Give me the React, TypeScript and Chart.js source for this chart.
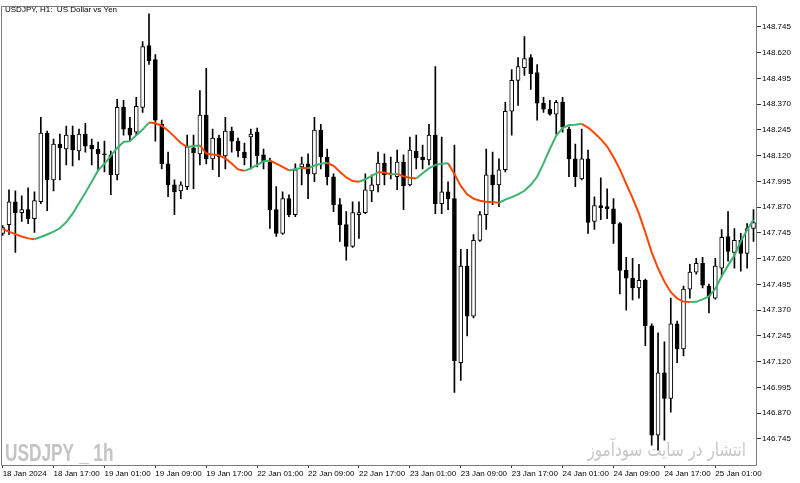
import React, { useEffect, useRef } from 'react';
import { Chart, registerables } from 'chart.js';

Chart.register(...registerables);

// USDJPY H1 candles, 18 Jan 2024 09:00 .. 25 Jan 2024 07:00
const opens = [
  147.742, 147.785, 147.896, 147.843, 147.858, 147.814, 147.896, 148.229, 148.002, 148.176,
  148.152, 148.219, 148.142, 148.224, 148.171, 148.152, 148.128, 148.123, 148.026, 148.354,
  148.253, 148.234, 148.354, 148.654, 148.586, 148.272, 148.080, 147.978, 147.949, 147.969,
  148.157, 148.128, 148.316, 148.104, 148.205, 148.118, 148.239, 148.190, 148.137, 148.210,
  148.234, 148.123, 148.089, 147.858, 147.742, 147.911, 147.833, 148.065, 148.080, 148.031,
  148.244, 148.113, 148.017, 147.882, 147.785, 147.679, 147.833, 147.843, 147.949, 147.978,
  148.084, 148.026, 148.017, 148.089, 147.978, 148.142, 148.113, 148.099, 148.219, 147.887,
  147.944, 147.911, 147.115, 147.583, 147.341, 147.708, 147.833, 148.026, 147.978, 148.051,
  148.335, 148.485, 148.547, 148.596, 148.523, 148.374, 148.345, 148.321, 148.379, 148.248,
  148.104, 148.007, 148.104, 147.800, 147.877, 147.872, 147.862, 147.790, 147.563, 147.525,
  147.477, 147.515, 147.293, 146.763, 147.066, 146.941, 147.303, 147.182, 147.472, 147.554,
  147.597, 147.486, 147.428, 147.573, 147.727, 147.650, 147.708, 147.645, 147.766,
];
const highs = [
  147.780, 147.954, 147.949, 147.925, 147.964, 147.944, 148.306, 148.239, 148.200, 148.224,
  148.263, 148.263, 148.248, 148.277, 148.200, 148.186, 148.190, 148.142, 148.393, 148.388,
  148.306, 148.403, 148.673, 148.808, 148.610, 148.292, 148.137, 148.002, 147.993, 148.219,
  148.219, 148.436, 148.543, 148.248, 148.219, 148.306, 148.258, 148.205, 148.181, 148.248,
  148.253, 148.152, 148.108, 147.969, 147.944, 147.930, 148.080, 148.113, 148.128, 148.306,
  148.272, 148.152, 148.031, 147.911, 147.848, 147.896, 147.896, 148.031, 148.026, 148.137,
  148.128, 148.113, 148.147, 148.123, 148.210, 148.219, 148.171, 148.272, 148.552, 148.210,
  147.993, 148.171, 147.665, 147.665, 147.737, 147.848, 148.152, 148.137, 148.104, 148.379,
  148.538, 148.596, 148.697, 148.610, 148.562, 148.403, 148.388, 148.388, 148.403, 148.258,
  148.176, 148.248, 148.147, 147.920, 148.012, 147.959, 147.911, 147.795, 147.626, 147.621,
  147.592, 147.520, 147.303, 147.259, 147.216, 147.428, 147.317, 147.486, 147.592, 147.621,
  147.626, 147.496, 147.621, 147.761, 147.848, 147.766, 147.742, 147.790, 147.858,
];
const lows = [
  147.732, 147.737, 147.650, 147.800, 147.790, 147.747, 147.887, 147.853, 147.949, 148.002,
  148.075, 148.070, 148.099, 148.137, 148.075, 148.051, 148.041, 147.930, 148.002, 148.219,
  148.190, 148.219, 148.330, 148.562, 148.190, 148.055, 147.920, 147.833, 147.911, 147.954,
  147.959, 148.075, 148.080, 148.051, 148.017, 148.055, 148.137, 148.113, 148.075, 148.055,
  148.065, 148.055, 147.766, 147.727, 147.737, 147.824, 147.824, 147.978, 147.911, 147.993,
  148.055, 147.978, 147.848, 147.703, 147.612, 147.674, 147.718, 147.838, 147.896, 147.944,
  147.978, 148.007, 147.954, 147.858, 147.973, 148.055, 148.055, 148.075, 147.838, 147.838,
  147.858, 146.970, 147.028, 147.245, 147.332, 147.703, 147.761, 147.882, 147.872, 148.041,
  148.219, 148.364, 148.509, 148.441, 148.292, 148.330, 148.316, 148.224, 148.234, 148.017,
  147.969, 148.002, 147.742, 147.761, 147.809, 147.814, 147.694, 147.448, 147.370, 147.419,
  147.428, 147.197, 146.714, 146.690, 146.738, 146.874, 147.115, 147.148, 147.428, 147.544,
  147.477, 147.356, 147.423, 147.534, 147.607, 147.573, 147.559, 147.573, 147.703,
];
const closes = [
  147.771, 147.896, 147.843, 147.858, 147.814, 147.901, 148.229, 148.002, 148.176, 148.157,
  148.219, 148.147, 148.224, 148.166, 148.152, 148.128, 148.123, 148.026, 148.354, 148.248,
  148.219, 148.359, 148.649, 148.581, 148.292, 148.080, 147.978, 147.944, 147.978, 148.162,
  148.133, 148.316, 148.104, 148.205, 148.113, 148.239, 148.190, 148.142, 148.108, 148.224,
  148.118, 148.089, 147.858, 147.742, 147.911, 147.833, 148.051, 148.080, 148.031, 148.244,
  148.113, 148.017, 147.882, 147.785, 147.679, 147.843, 147.843, 147.954, 147.978, 148.084,
  148.026, 148.031, 148.089, 147.973, 148.147, 148.108, 148.099, 148.219, 147.887, 147.944,
  147.911, 147.124, 147.583, 147.341, 147.708, 147.833, 148.026, 147.978, 148.051, 148.335,
  148.485, 148.552, 148.591, 148.518, 148.374, 148.345, 148.321, 148.379, 148.258, 148.104,
  148.017, 148.104, 147.795, 147.877, 147.867, 147.862, 147.790, 147.563, 147.525, 147.477,
  147.515, 147.293, 146.763, 147.066, 146.941, 147.303, 147.182, 147.472, 147.554, 147.597,
  147.491, 147.438, 147.583, 147.723, 147.655, 147.708, 147.645, 147.766, 147.795,
];
// moving-average line
const maValues = [
  147.763, 147.751, 147.739, 147.727, 147.718, 147.714, 147.725, 147.737, 147.751, 147.767,
  147.797, 147.838, 147.889, 147.940, 147.993, 148.048, 148.080, 148.118, 148.157, 148.186,
  148.190, 148.219, 148.246, 148.280, 148.277, 148.265, 148.241, 148.212, 148.181, 148.162,
  148.166, 148.169, 148.130, 148.125, 148.121, 148.106, 148.082, 148.053, 148.046, 148.058,
  148.075, 148.092, 148.096, 148.081, 148.065, 148.048, 148.055, 148.060, 148.058, 148.071,
  148.080, 148.084, 148.070, 148.041, 148.014, 147.996, 147.993, 148.005, 148.022, 148.039,
  148.038, 148.029, 148.031, 148.019, 148.012, 148.009, 148.034, 148.058, 148.075, 148.080,
  148.083, 148.031, 147.973, 147.932, 147.911, 147.901, 147.896, 147.894, 147.891, 147.906,
  147.918, 147.932, 147.949, 147.978, 148.017, 148.082, 148.152, 148.217, 148.253, 148.268,
  148.270, 148.274, 148.256, 148.229, 148.200, 148.164, 148.113, 148.053, 147.983, 147.913,
  147.838, 147.747, 147.650, 147.573, 147.508, 147.457, 147.426, 147.411, 147.409, 147.410,
  147.422, 147.437, 147.474, 147.534, 147.587, 147.636, 147.703, 147.759, 147.809,
];

const xTickIndex = [0, 8, 16, 24, 32, 40, 48, 56, 64, 72, 80, 88, 96, 104, 112];
const xTickLabels = [
  '18 Jan 2024', '18 Jan 17:00', '19 Jan 01:00', '19 Jan 09:00', '19 Jan 17:00',
  '22 Jan 01:00', '22 Jan 09:00', '22 Jan 17:00', '23 Jan 01:00', '23 Jan 09:00',
  '23 Jan 17:00', '24 Jan 01:00', '24 Jan 09:00', '24 Jan 17:00', '25 Jan 01:00',
];
const yTicks = [
  146.745, 146.870, 146.995, 147.120, 147.245, 147.370, 147.495, 147.620, 147.745,
  147.870, 147.995, 148.120, 148.245, 148.370, 148.495, 148.620, 148.745,
];

const TITLE = 'USDJPY, H1:  US Dollar vs Yen';
const WATERMARK = 'USDJPY _ 1h';
const WATERMARK_FA = 'انتشار در سایت سودآموز';

const GREEN = '#3cb371';
const ORANGE = '#ff4500';
const FONT = '"Liberation Sans", Arial, sans-serif';

const decor = {
  id: 'decor',
  beforeDatasetsDraw(chart: any) {
    const { ctx } = chart;
    ctx.save();
    ctx.fillStyle = '#c4c4c4';
    ctx.textBaseline = 'alphabetic';
    ctx.font = 'bold 24px ' + FONT;
    ctx.translate(5, 461);
    ctx.scale(0.72, 1);
    ctx.fillText(WATERMARK, 0, 0);
    ctx.restore();
    ctx.save();
    ctx.fillStyle = '#c8c8c8';
    ctx.font = '19px "DejaVu Sans", sans-serif';
    ctx.textAlign = 'right';
    ctx.textBaseline = 'alphabetic';
    ctx.translate(746, 456);
    ctx.scale(0.8, 1);
    ctx.fillText(WATERMARK_FA, 0, 0);
    ctx.restore();
  },
  afterDraw(chart: any) {
    const { ctx, chartArea: a } = chart;
    ctx.save();
    ctx.strokeStyle = '#7a7a7a';
    ctx.lineWidth = 1;
    ctx.beginPath();
    ctx.rect(Math.round(a.left) - 0.5, Math.round(a.top) + 0.5, Math.round(a.right - a.left), Math.round(a.bottom - a.top));
    ctx.stroke();
    ctx.fillStyle = '#000';
    ctx.font = '8px ' + FONT;
    ctx.textBaseline = 'alphabetic';
    ctx.textAlign = 'left';
    ctx.fillText(TITLE, 5, 12);
    ctx.restore();
  },
};

export default function App() {
  const ref = useRef<HTMLCanvasElement | null>(null);
  useEffect(() => {
    if (!ref.current) return;
    const n = opens.length;
    const idx = opens.map((_, i) => i);
    const chart = new Chart(ref.current, {
      type: 'bar',
      data: {
        datasets: [
          {
            type: 'line',
            data: idx.map((i) => ({ x: i, y: maValues[i] })),
            borderColor: GREEN,
            borderWidth: 2,
            pointRadius: 0,
            tension: 0,
            order: 0,
            segment: {
              borderColor: (c: any) => (c.p1.parsed.y < c.p0.parsed.y ? ORANGE : GREEN),
            },
          } as any,
          {
            type: 'bar',
            data: idx.map((i) => ({ x: i, y: [Math.min(opens[i], closes[i]), Math.max(opens[i], closes[i])] })),
            backgroundColor: idx.map((i) => (closes[i] >= opens[i] ? '#ffffff' : '#000000')),
            borderColor: '#000000',
            borderWidth: 1,
            borderSkipped: false,
            barThickness: 4,
            minBarLength: 1,
            grouped: false,
            order: 1,
          } as any,
          {
            type: 'bar',
            data: idx.map((i) => ({ x: i, y: [lows[i], highs[i]] })),
            backgroundColor: '#000000',
            borderWidth: 0,
            barThickness: 1,
            grouped: false,
            order: 2,
          } as any,
        ],
      },
      options: {
        responsive: false,
        devicePixelRatio: 1,
        animation: false,
        layout: { padding: { top: 3, left: 2, right: 0, bottom: 0 } },
        plugins: { legend: { display: false }, tooltip: { enabled: false } },
        scales: {
          x: {
            type: 'linear',
            min: -0.1,
            max: n - 0.45,
            offset: false,
            grid: { display: true, drawOnChartArea: false, drawTicks: true, tickLength: 3, color: '#333', offset: false },
            border: { display: false },
            afterBuildTicks: (s: any) => {
              s.ticks = xTickIndex.map((v) => ({ value: v }));
            },
            afterFit: (s: any) => {
              s.height = 18;
            },
            ticks: {
              autoSkip: false,
              maxRotation: 0,
              minRotation: 0,
              align: 'start',
              padding: 1,
              color: '#000',
              font: { family: FONT, size: 8 },
              callback: (_v: any, i: number) => xTickLabels[i],
            },
          },
          y: {
            type: 'linear',
            position: 'right',
            min: 146.618,
            max: 148.847,
            grid: { display: true, drawOnChartArea: false, drawTicks: true, tickLength: 4, color: '#333' },
            border: { display: false },
            afterBuildTicks: (s: any) => {
              s.ticks = yTicks.map((v) => ({ value: v }));
            },
            afterFit: (s: any) => {
              s.width = 43;
            },
            ticks: {
              padding: 1,
              color: '#000',
              font: { family: FONT, size: 8 },
              callback: (v: any) => Number(v).toFixed(3),
            },
          },
        },
      } as any,
      plugins: [decor],
    });
    return () => chart.destroy();
  }, []);
  return (
    <div style={{ position: 'absolute', left: 0, top: 0, width: 800, height: 483, background: '#fff' }}>
      <canvas ref={ref} width={800} height={483} style={{ display: 'block' }} />
    </div>
  );
}
